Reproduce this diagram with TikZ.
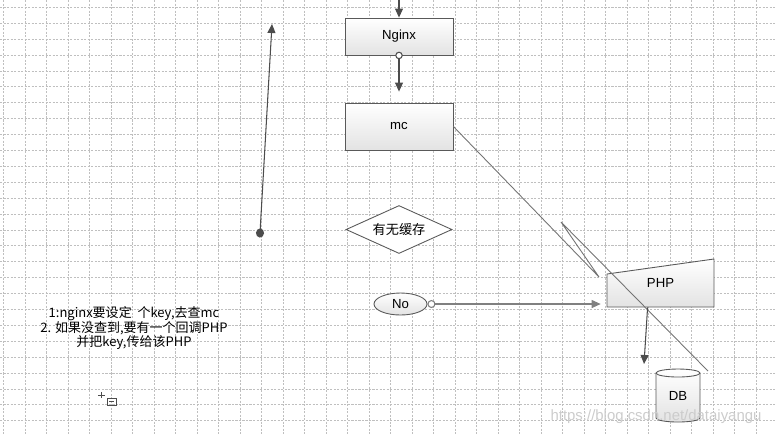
\documentclass[tikz,border=0pt]{standalone}
\usepackage{fontspec}
\setmainfont{Liberation Sans}
\newfontfamily\cjkfont{Noto Sans CJK SC}
\usetikzlibrary{arrows.meta,shapes.geometric,calc}
\tikzset{
  gridline/.style={gray!50, line width=0.4pt, dash pattern=on 1.2pt off 0.8pt},
  shapebox/.style={draw=gray!70!black, line width=0.5pt, top color=white, bottom color=gray!22},
  labelfont/.style={font=\fontsize{7.5}{9}\selectfont},
  flowarrow/.style={draw=black!70, line width=0.6pt, -{Triangle[length=0.18cm,width=0.16cm]}},
  thinline/.style={draw=black!55, line width=0.5pt},
}
\begin{document}
\begin{tikzpicture}[x=0.02cm, y=-0.02cm]
\useasboundingbox (0,0) rectangle (776,434);
% Grid
\foreach \i in {0,...,35} \draw[gridline] ({3.5+21.5*\i},0) -- ({3.5+21.5*\i},434);
\foreach \j in {0,...,26} \draw[gridline] (0,{7.3+15.9*\j}) -- (776,{7.3+15.9*\j});
% Boxes
\node[shapebox, labelfont, minimum width=2.16cm, minimum height=0.74cm] (nginx) at (399,36.5) {Nginx};
\node[shapebox, labelfont, minimum width=2.16cm, minimum height=0.94cm] (mc) at (399,126.5) {mc};
\node[diamond, draw=gray!70!black, fill=white, line width=0.5pt, aspect=2.2, minimum width=2.12cm, minimum height=0.96cm, inner sep=0pt, font=\cjkfont\fontsize{7.5}{9}\selectfont] (cache) at (399,229.5) {有无缓存};
\node[shapebox, labelfont, ellipse, minimum width=1.06cm, minimum height=0.44cm, inner sep=0pt] (no) at (400.5,304) {No};
% PHP (manual input)
\draw[shapebox] (607,307) -- (607,274) -- (714,259) -- (714,307) -- cycle;
\node[labelfont, minimum width=2.14cm, minimum height=0.96cm] (php) at (660.5,283) {PHP};
% DB cylinder
\draw[shapebox] (656,373) -- (656,418) arc[start angle=180, end angle=0, x radius=22, y radius=4] -- (700,373) arc[start angle=360, end angle=180, x radius=22, y radius=4] -- cycle;
\draw[draw=gray!70!black, line width=0.5pt] (656,373) arc[start angle=180, end angle=0, x radius=22, y radius=4];
\node[labelfont, minimum width=0.88cm, minimum height=1.06cm] (db) at (678,395.5) {DB};
% Connectors
\coordinate (entry) at (399,0);
\draw[flowarrow] (entry) -- (nginx.north);
\draw[flowarrow, {Circle[open, fill=white, length=0.15cm, width=0.15cm]}-{Triangle[length=0.18cm,width=0.16cm]}, shorten <=-0.075cm, shorten >=0.22cm] (nginx) -- (mc);
\coordinate (dot) at (260,233);
\coordinate (top) at (272,24);
\draw[flowarrow, {Circle[length=0.18cm,width=0.16cm]}-{Triangle[length=0.18cm,width=0.16cm]}, shorten <=-0.09cm] (dot) -- (top);
\draw[flowarrow, draw=black!50, {Circle[open, fill=white, length=0.16cm, width=0.16cm]}-{Triangle[length=0.18cm,width=0.16cm]}, shorten >=0.12cm] (no.east) -- (no.east -| php.west);
% Zigzag from mc
\coordinate (z1) at (599,277);
\coordinate (z2) at (561,222);
\coordinate (z3) at (708,371);
\draw[thinline] (mc.east) -- (z1) -- (z2) -- (z3);
\coordinate (dbin) at (644,364);
\draw[flowarrow] ($(php.south west)!0.38!(php.south east)$) -- (dbin);
% Note
\node[font=\cjkfont\fontsize{7.4}{8.5}\selectfont, align=center] (note) at (134,328) {1:nginx要设定\ \ 个key,去查mc\\2. 如果没查到,要有一个回调PHP\\并把key,传给该PHP};
% Cursor
\draw[black!70, line width=0.4pt] (98,395) -- (105,395) (101.5,392) -- (101.5,398);
\draw[black!70, line width=0.5pt] (107,398) rectangle (116,405);
\draw[black!70, line width=0.5pt] (109,401.5) -- (114,401.5);
% Watermark
\node[text=gray!40, font=\fontsize{8.5}{10}\selectfont] (mark) at (656,417) {https://blog.csdn.net/dataiyangu};
\end{tikzpicture}
\end{document}
